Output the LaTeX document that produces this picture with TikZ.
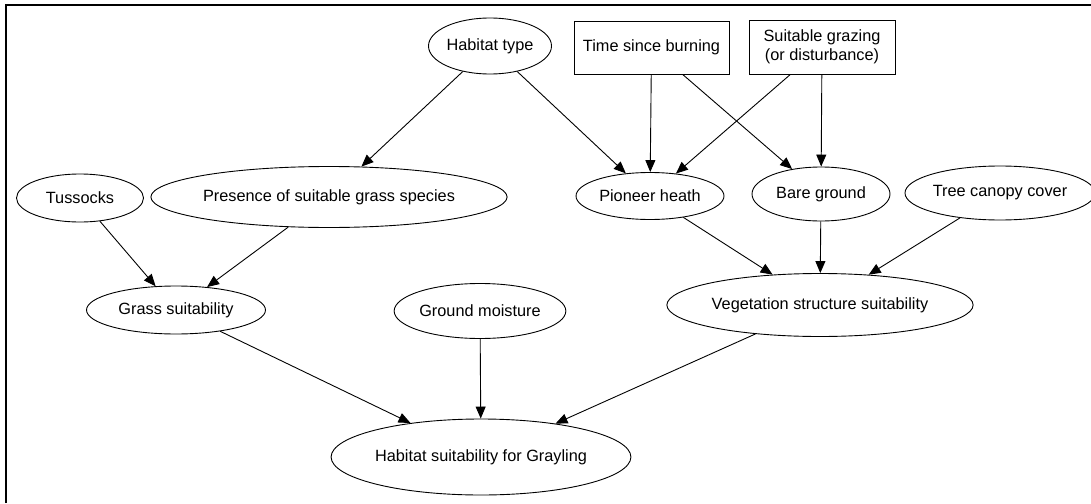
\documentclass[tikz,border=0pt]{standalone}
\usepackage{fontspec}
\setmainfont{Liberation Sans}
\usetikzlibrary{shapes.geometric,arrows.meta}
\begin{document}
\begin{tikzpicture}[x=1pt,y=-1pt,
  every node/.style={font=\fontsize{16.3}{19}\selectfont, line width=0.9pt},
  oval/.style={draw, ellipse, inner sep=0pt},
  box/.style={draw, rectangle, inner sep=0pt, align=center},
  link/.style={line width=0.9pt, -{Triangle[length=12pt,width=10pt]}}]
\useasboundingbox (0,0) rectangle (1091,503);
% partial frame: top and left edges
\draw[line width=2pt] (6,503) -- (6,5) -- (1091,5);

% top row
\node[oval, minimum width=114, minimum height=56] (ht) at (490,46) {Habitat type};
\node[box, minimum width=155, minimum height=53] (tsb) at (651.5,47.5) {Time since burning};
\node[box, minimum width=146, minimum height=54] (gz) at (822,47) {Suitable grazing\\(or disturbance)};

% second row
\node[oval, minimum width=127, minimum height=48] (tus) at (80,198) {Tussocks};
\node[oval, minimum width=290, minimum height=61] (pres) at (329,197) {Presence of suitable grass species};
\node[oval, minimum width=148, minimum height=47] (ph) at (650,196) {Pioneer heath};
\node[oval, minimum width=138, minimum height=54] (bg) at (821,194) {Bare ground};
\node[oval, minimum width=173, minimum height=54] (tcc) at (1000,193) {Tree canopy cover};

% third row
\node[oval, minimum width=179, minimum height=48] (gs) at (176,310) {Grass suitability};
\node[oval, minimum width=169, minimum height=55] (gm) at (480,311) {Ground moisture};
\node[oval, minimum width=257, minimum height=63] (vs) at (820,305) {Vegetation structure suitability};

% outcome
\node[oval, minimum width=260, minimum height=76] (hs) at (481,457) {Habitat suitability for Grayling};

% influences
\draw[link] (ht) -- (pres);
\draw[link] (ht) -- (ph);
\draw[link] (tsb) -- (ph);
\draw[link] (tsb) -- (bg);
\draw[link] (gz) -- (ph);
\draw[link] (gz) -- (bg);
\draw[link] (tus) -- (gs);
\draw[link] (pres) -- (gs);
\draw[link] (ph) -- (vs);
\draw[link] (bg) -- (vs);
\draw[link] (tcc) -- (vs);
\draw[link] (gs) -- (hs);
\draw[link] (gm) -- (hs);
\draw[link] (vs) -- (hs);
\end{tikzpicture}
\end{document}
